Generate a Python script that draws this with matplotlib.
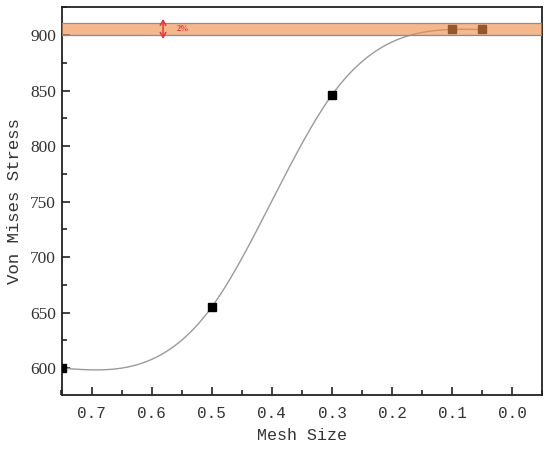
import numpy as np
import matplotlib
import matplotlib.pyplot as plt
from matplotlib.ticker import MultipleLocator

matplotlib.use('Agg')

mesh_size = [0.75, 0.5, 0.3, 0.1, 0.05]
stress = [600, 655, 846, 905, 905]
band_low, band_high = 900, 911
x_ticks = [0.7, 0.6, 0.5, 0.4, 0.3, 0.2, 0.1, 0.0]
x_tick_labels = ['0.7', '0.6', '0.5', '0.4', '0.3', '0.2', '0.1', '0.0']


def natural_spline(x, y, x_new):
    # natural cubic spline, x must be increasing
    x = np.asarray(x, float)
    y = np.asarray(y, float)
    n = len(x)
    h = np.diff(x)
    A = np.zeros((n, n))
    r = np.zeros(n)
    A[0, 0] = A[-1, -1] = 1
    for i in range(1, n - 1):
        A[i, i - 1] = h[i - 1]
        A[i, i] = 2 * (h[i - 1] + h[i])
        A[i, i + 1] = h[i]
        r[i] = 3 * ((y[i + 1] - y[i]) / h[i] - (y[i] - y[i - 1]) / h[i - 1])
    c = np.linalg.solve(A, r)
    b = (np.diff(y) / h) - h * (2 * c[:-1] + c[1:]) / 3
    d = np.diff(c) / (3 * h)
    idx = np.clip(np.searchsorted(x, x_new) - 1, 0, n - 2)
    dx = x_new - x[idx]
    return y[idx] + b[idx] * dx + c[idx] * dx ** 2 + d[idx] * dx ** 3


def main():
    xs = np.array(mesh_size[::-1])
    ys = np.array(stress[::-1])
    x_fine = np.linspace(xs.min(), xs.max(), 400)
    y_fine = natural_spline(xs, ys, x_fine)

    fig = plt.figure(figsize=(5.5, 4.51), dpi=100)
    ax = fig.add_axes([61.5 / 550, 55.7 / 451, 480.8 / 550, 388.6 / 451])

    ax.plot(x_fine, y_fine, color='#9a9a9a', linewidth=1.0, zorder=2)
    ax.plot(mesh_size, stress, 's', color='black', markersize=6, zorder=3)

    ax.axhspan(band_low, band_high, facecolor='#f08c46', alpha=0.62,
               edgecolor='none', zorder=4)
    ax.axhline(band_low, color='#8c8c8c', linewidth=0.9, zorder=5)
    ax.axhline(band_high, color='#8c8c8c', linewidth=0.9, zorder=5)

    ax.annotate('', xy=(0.581, band_low - 3.5), xytext=(0.581, band_high + 3.5),
                arrowprops=dict(arrowstyle='<->,head_length=0.35,head_width=0.2',
                                color='#e8353a', lw=1.1,
                                shrinkA=0, shrinkB=0), zorder=6)
    ax.text(0.558, (band_low + band_high) / 2, '2%', color='#e8353a',
            fontsize=6, fontweight='bold', va='center', ha='left',
            family='Liberation Serif', zorder=6)

    ax.set_xlim(0.75, -0.05)
    ax.set_ylim(575.5, 925.5)
    ax.xaxis.set_minor_locator(MultipleLocator(0.05))
    ax.yaxis.set_major_locator(MultipleLocator(50))
    ax.yaxis.set_minor_locator(MultipleLocator(25))
    ax.set_xticks(x_ticks)
    ax.set_xticklabels(x_tick_labels, family='Liberation Mono', fontsize=11.5,
                       color='#333333')
    for lab in ax.get_yticklabels():
        lab.set_family('Liberation Serif')
        lab.set_color('#333333')
    ax.tick_params(which='both', direction='in', top=False, right=False,
                   color='#222222', width=1.2)
    ax.tick_params(which='major', length=6)
    ax.tick_params(which='minor', length=3.5)
    ax.tick_params(axis='y', labelsize=12.5, pad=4)
    ax.tick_params(axis='x', pad=8)
    for s in ax.spines.values():
        s.set_linewidth(1.3)
        s.set_color('#222222')

    ax.set_xlabel('Mesh Size', family='Liberation Mono', fontsize=12,
                  color='#333333', labelpad=5)
    ax.set_ylabel('Von Mises Stress', family='Liberation Mono', fontsize=12.5,
                  color='#333333', labelpad=6)

    fig.savefig('out.png', dpi=100)


if __name__ == '__main__':
    main()
